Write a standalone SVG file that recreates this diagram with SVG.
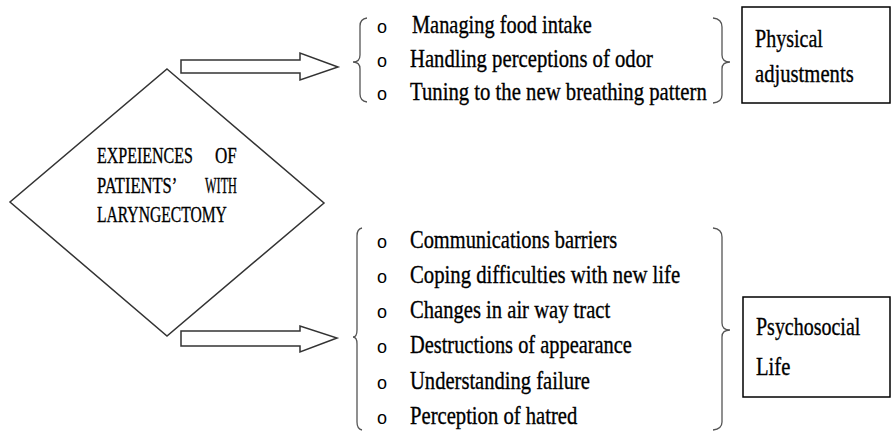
<svg xmlns="http://www.w3.org/2000/svg" width="891" height="432" viewBox="0 0 891 432">
<style>
.t{font-family:"Liberation Serif","Times New Roman",serif;font-size:26px;fill:#000;stroke:#000;stroke-width:0.35}
.d{font-family:"Liberation Serif","Times New Roman",serif;font-size:24px;fill:#000;stroke:#000;stroke-width:0.35}
.b{font-family:"Liberation Sans",Arial,sans-serif;font-size:18px;fill:#000}
.sh{fill:#fff;stroke:#333;stroke-width:1.5}
.br{fill:none;stroke:#555;stroke-width:1.3}
.bx{fill:#fff;stroke:#000;stroke-width:1.5}
</style>
<rect width="891" height="432" fill="#fff"/>
<g id="center">
<polygon class="sh" points="167,69 324,203 167,336 10,202"/>
<text class="d" transform="translate(97,163) scale(0.68,1)" textLength="141" lengthAdjust="spacingAndGlyphs">EXPEIENCES</text>
<text class="d" transform="translate(215,163) scale(0.68,1)" textLength="32" lengthAdjust="spacingAndGlyphs">OF</text>
<text class="d" transform="translate(97,193) scale(0.68,1)" textLength="118" lengthAdjust="spacingAndGlyphs">PATIENTS’</text>
<text class="d" transform="translate(205,193) scale(0.68,1)" textLength="47" lengthAdjust="spacingAndGlyphs">WITH</text>
<text class="d" transform="translate(97,222) scale(0.68,1)" textLength="191" lengthAdjust="spacingAndGlyphs">LARYNGECTOMY</text>
</g>
<g id="connectors">
<polygon class="sh" points="181,60 300,60 300,53 338,67 300,80 300,73 181,73"/>
<polygon class="sh" points="181,331 300,331 300,326 337,338 300,352 300,346 181,346"/>
<path class="br" d="M367,18 Q360,19 360,26 L360,55 Q360,62 353,62 Q360,62 360,69 L360,94 Q360,101 367,102"/>
<path class="br" d="M713,18 Q722,19 722,27 L722,55 Q722,62 730,62 Q722,62 722,69 L722,95 Q722,102 713,103"/>
<path class="br" d="M362,228 Q357,229 357,236 L357,330 Q357,337 353,337 Q357,337 357,344 L357,422 Q357,429 362,430"/>
<path class="br" d="M713,228 Q722,229 722,237 L722,323 Q722,330 730,330 Q722,330 722,337 L722,422 Q722,429 713,430"/>
</g>
<g id="physical-list">
<text class="b" x="377" y="33">o</text>
<text class="b" x="377" y="67">o</text>
<text class="b" x="377" y="100">o</text>
<text class="t" transform="translate(412,33) scale(0.7,1)" textLength="257" lengthAdjust="spacingAndGlyphs">Managing food intake</text>
<text class="t" transform="translate(410,67) scale(0.7,1)" textLength="347" lengthAdjust="spacingAndGlyphs">Handling perceptions of odor</text>
<text class="t" transform="translate(410,100) scale(0.7,1)" textLength="424" lengthAdjust="spacingAndGlyphs">Tuning to the new breathing pattern</text>
</g>
<g id="physical">
<rect class="bx" x="742" y="7" width="148" height="96"/>
<text class="t" transform="translate(755,47) scale(0.7,1)" textLength="97" lengthAdjust="spacingAndGlyphs">Physical</text>
<text class="t" transform="translate(755,82) scale(0.7,1)" textLength="141" lengthAdjust="spacingAndGlyphs">adjustments</text>
</g>
<g id="psychosocial-list">
<text class="b" x="377" y="248">o</text>
<text class="b" x="377" y="283">o</text>
<text class="b" x="377" y="318">o</text>
<text class="b" x="377" y="353">o</text>
<text class="b" x="377" y="389">o</text>
<text class="b" x="377" y="424">o</text>
<text class="t" transform="translate(410,248) scale(0.7,1)" textLength="296" lengthAdjust="spacingAndGlyphs">Communications barriers</text>
<text class="t" transform="translate(410,283) scale(0.7,1)" textLength="386" lengthAdjust="spacingAndGlyphs">Coping difficulties with new life</text>
<text class="t" transform="translate(410,318) scale(0.7,1)" textLength="286" lengthAdjust="spacingAndGlyphs">Changes in air way tract</text>
<text class="t" transform="translate(410,353) scale(0.7,1)" textLength="317" lengthAdjust="spacingAndGlyphs">Destructions of appearance</text>
<text class="t" transform="translate(410,389) scale(0.7,1)" textLength="257" lengthAdjust="spacingAndGlyphs">Understanding failure</text>
<text class="t" transform="translate(410,424) scale(0.7,1)" textLength="239" lengthAdjust="spacingAndGlyphs">Perception of hatred</text>
</g>
<g id="psychosocial">
<rect class="bx" x="743" y="297" width="147" height="100"/>
<text class="t" transform="translate(756,335) scale(0.7,1)" textLength="149" lengthAdjust="spacingAndGlyphs">Psychosocial</text>
<text class="t" transform="translate(756,375) scale(0.7,1)" textLength="49" lengthAdjust="spacingAndGlyphs">Life</text>
</g>
</svg>
